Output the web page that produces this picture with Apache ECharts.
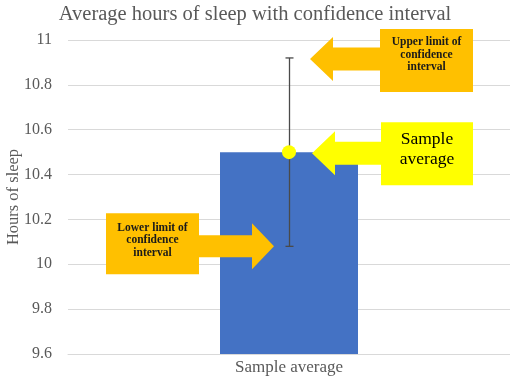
<!DOCTYPE html>
<html><head><meta charset="utf-8">
<script src="https://cdn.jsdelivr.net/npm/echarts@6/dist/echarts.min.js"></script>
<style>html,body{margin:0;padding:0;background:#fff}#c{width:510px;height:378px}</style>
</head><body><div id="c"></div>
<script>
const categories = ['Sample average'];
const averages = [10.5];
const lowerLimits = [10.08];
const upperLimits = [10.92];
const yTicks = [9.6, 9.8, 10, 10.2, 10.4, 10.6, 10.8, 11];

const SERIF = '"Liberation Serif","Times New Roman",serif';
const chart = echarts.init(document.getElementById('c'), null, {renderer: 'canvas'});

const option = {
  animation: false,
  title: {
    text: 'Average hours of sleep with confidence interval',
    left: 'center', top: -1,
    textStyle: {fontFamily: SERIF, fontSize: 20.5, fontWeight: 'normal', color: '#595959'}
  },
  grid: {left: 68, right: 0, top: 40, bottom: 24, containLabel: false, outerBoundsMode: 'none'},
  xAxis: {
    type: 'category', data: categories,
    axisLine: {show: true, lineStyle: {color: '#d9d9d9'}},
    axisTick: {show: false},
    axisLabel: {fontFamily: SERIF, fontSize: 17, color: '#595959', margin: 5}
  },
  yAxis: {
    type: 'value', min: yTicks[0], max: yTicks[yTicks.length - 1], interval: 0.2,
    name: 'Hours of sleep', nameLocation: 'middle', nameGap: 46, nameMoveOverlap: false,
    nameTextStyle: {fontFamily: SERIF, fontSize: 16.5, color: '#595959'},
    axisLine: {show: false}, axisTick: {show: false},
    axisLabel: {fontFamily: SERIF, fontSize: 16, color: '#595959', margin: 16,
      formatter: v => String(Math.round(v * 10) / 10)},
    splitLine: {lineStyle: {color: '#d9d9d9', width: 1}}
  },
  series: [
    {type: 'bar', data: averages, barWidth: 138, itemStyle: {color: '#4472C4'}, z: 2},
    {
      type: 'custom', z: 3,
      data: categories.map((c, i) => [i, lowerLimits[i], upperLimits[i]]),
      renderItem: function (params, api) {
        const lo = api.coord([api.value(0), api.value(1)]);
        const hi = api.coord([api.value(0), api.value(2)]);
        const x = Math.round(lo[0]) + 0.5;
        const st = {stroke: '#4a4a4a', lineWidth: 1.3};
        return {type: 'group', children: [
          {type: 'line', shape: {x1: x, y1: hi[1], x2: x, y2: lo[1]}, style: st},
          {type: 'line', shape: {x1: x - 4, y1: hi[1], x2: x + 4, y2: hi[1]}, style: st},
          {type: 'line', shape: {x1: x - 4, y1: lo[1], x2: x + 4, y2: lo[1]}, style: st}
        ]};
      }
    },
    {type: 'scatter', data: averages, symbolSize: 14, itemStyle: {color: '#FFFF00', opacity: 1}, z: 4}
  ]
};
chart.setOption(option);

function leftArrow(tx, ty, boxX) {
  return [[tx, ty], [tx + 23, ty - 22], [tx + 23, ty - 11.5], [boxX + 2, ty - 11.5],
          [boxX + 2, ty + 11.5], [tx + 23, ty + 11.5], [tx + 23, ty + 22]];
}
function rightArrow(tx, ty, boxX) {
  return [[tx, ty], [tx - 22, ty - 23], [tx - 22, ty - 11], [boxX - 2, ty - 11],
          [boxX - 2, ty + 11], [tx - 22, ty + 11], [tx - 22, ty + 23]];
}

const pUp = chart.convertToPixel({gridIndex: 0}, [0, upperLimits[0]]);
const pAvg = chart.convertToPixel({gridIndex: 0}, [0, averages[0]]);
const pLo = chart.convertToPixel({gridIndex: 0}, [0, lowerLimits[0]]);
const ORANGE = '#FFC000', YELLOW = '#FFFF00';
const g = [];
{
  const tx = pUp[0] + 21, ty = pUp[1] + 1, bx = 380, by = ty - 30;
  g.push({type: 'polygon', shape: {points: leftArrow(tx, ty, bx)}, style: {fill: ORANGE}, z: 10});
  g.push({type: 'rect', shape: {x: bx, y: by, width: 93, height: 63}, style: {fill: ORANGE}, z: 11});
  g.push({type: 'text', x: bx + 46.5, y: by + 26, z: 12, style: {
    text: 'Upper limit of\nconfidence\ninterval', fontFamily: SERIF, fontSize: 11.5, fontWeight: 'bold',
    lineHeight: 12.5, fill: '#1a1a1a', align: 'center', verticalAlign: 'middle'}});
}
{
  const tx = pAvg[0] + 23, ty = pAvg[1] + 1, bx = 381, by = ty - 31;
  g.push({type: 'polygon', shape: {points: leftArrow(tx, ty, bx)}, style: {fill: YELLOW}, z: 10});
  g.push({type: 'rect', shape: {x: bx, y: by, width: 92, height: 63}, style: {fill: YELLOW}, z: 11});
  g.push({type: 'text', x: bx + 46, y: by + 27, z: 12, style: {
    text: 'Sample\naverage', fontFamily: SERIF, fontSize: 17.5, lineHeight: 20,
    fill: '#000', align: 'center', verticalAlign: 'middle'}});
}
{
  const tx = pLo[0] - 15, ty = pLo[1], bx = 199, by = ty - 33;
  g.push({type: 'polygon', shape: {points: rightArrow(tx, ty, bx)}, style: {fill: ORANGE}, z: 10});
  g.push({type: 'rect', shape: {x: 106, y: by, width: bx - 106, height: 61}, style: {fill: ORANGE}, z: 11});
  g.push({type: 'text', x: (106 + bx) / 2, y: by + 27, z: 12, style: {
    text: 'Lower limit of\nconfidence\ninterval', fontFamily: SERIF, fontSize: 11.5, fontWeight: 'bold',
    lineHeight: 12.5, fill: '#1a1a1a', align: 'center', verticalAlign: 'middle'}});
}
chart.setOption({graphic: g});
</script></body></html>
